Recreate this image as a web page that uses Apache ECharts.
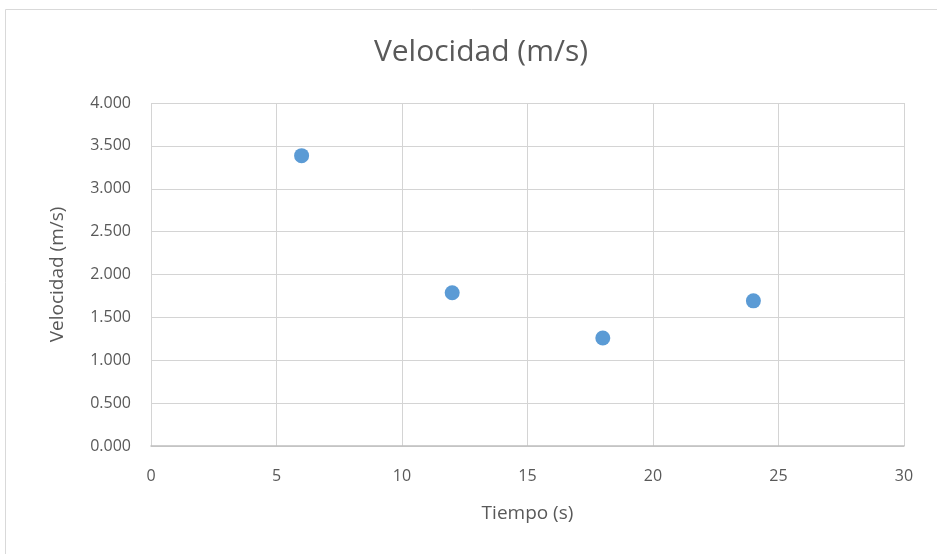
<!DOCTYPE html>
<html><head><meta charset="utf-8">
<script src="https://cdn.jsdelivr.net/npm/echarts@6/dist/echarts.min.js"></script>
<style>html,body{margin:0;padding:0;background:#fff}#c{width:937px;height:554px}</style>
</head><body><div id="c"></div>
<script>
const tiempo = [6, 12, 18, 24];
const velocidad = [3.386, 1.787, 1.259, 1.693];
const titleText = 'Velocidad (m/s)';
const xName = 'Tiempo (s)';
const yName = 'Velocidad (m/s)';

const chart = echarts.init(document.getElementById('c'));
chart.setOption({
  animation: false,
  backgroundColor: '#fff',
  graphic: [{type:'rect', shape:{x:5.5,y:9.5,width:960,height:600}, style:{fill:'none', stroke:'#d9d9d9', lineWidth:1}}],
  title: {text: titleText, left: 476, top: 32, textAlign: 'center',
    textStyle: {fontFamily: 'Open Sans', fontWeight: 'normal', fontSize: 30, color: '#595959'}},
  grid: {left: 151, right: 33, top: 103, bottom: 108},
  xAxis: {type: 'value', min: 0, max: 30, interval: 5,
    name: xName, nameLocation: 'middle', nameGap: 58,
    nameTextStyle: {fontFamily: 'Open Sans', fontSize: 19, color: '#595959'},
    axisLine: {lineStyle: {color: '#bfbfbf', width: 1.5}}, axisTick: {show: false},
    axisLabel: {fontFamily: 'Open Sans', fontSize: 16, color: '#595959', margin: 22},
    splitLine: {show: true, lineStyle: {color: '#d4d4d4'}}},
  yAxis: {type: 'value', min: 0, max: 4, interval: 0.5,
    name: yName, nameLocation: 'middle', nameGap: 84,
    nameTextStyle: {fontFamily: 'Open Sans', fontSize: 19, color: '#595959'},
    axisLine: {show: false}, axisTick: {show: false},
    axisLabel: {fontFamily: 'Open Sans', fontSize: 16, color: '#595959', margin: 20,
      formatter: v => v.toFixed(3)},
    splitLine: {show: true, lineStyle: {color: '#d4d4d4'}}},
  series: [{type: 'scatter', symbol: 'circle', symbolSize: 15,
    itemStyle: {color: '#5b9bd5', opacity: 1},
    data: tiempo.map((t, i) => [t, velocidad[i]])}]
});
</script></body></html>
